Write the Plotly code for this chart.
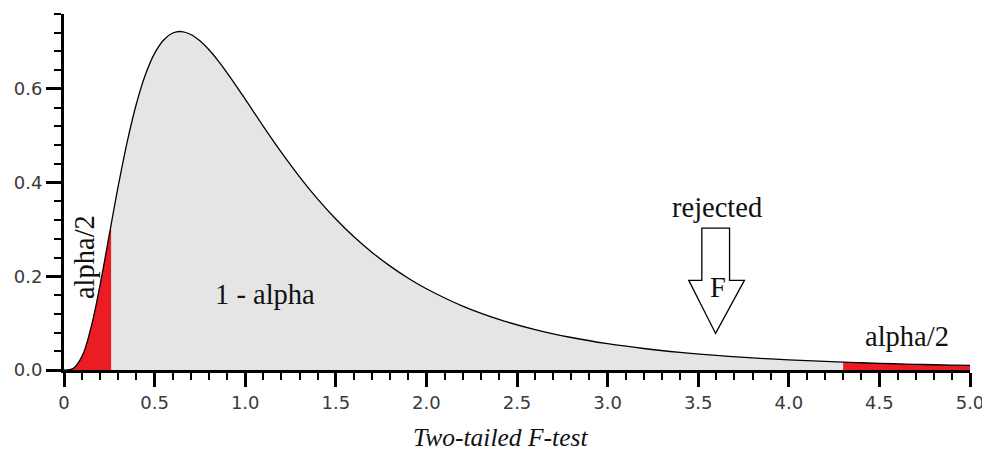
import numpy as np
import plotly.graph_objects as go

# F-distribution density
f_x = [0.0, 0.05, 0.10, 0.15, 0.20, 0.25, 0.26, 0.30, 0.35, 0.40, 0.45, 0.50, 0.55, 0.60,
       0.65, 0.70, 0.75, 0.80, 0.85, 0.90, 0.95, 1.0, 1.1, 1.2, 1.3, 1.4, 1.5, 1.6, 1.7,
       1.8, 1.9, 2.0, 2.2, 2.4, 2.6, 2.8, 3.0, 3.2, 3.4, 3.6, 3.8, 3.9, 4.0, 4.1, 4.2,
       4.3, 4.4, 4.5, 4.6, 4.7, 4.8, 4.9, 5.0]
f_density = [0.0, 0.0031, 0.0296, 0.0921, 0.1835, 0.2888, 0.3102, 0.3940, 0.4892, 0.5690,
             0.6313, 0.6759, 0.7046, 0.7194, 0.7225, 0.7163, 0.7027, 0.6836, 0.6605, 0.6345,
             0.6068, 0.5782, 0.5203, 0.4645, 0.4124, 0.3649, 0.3224, 0.2845, 0.2511, 0.2217,
             0.1960, 0.1735, 0.1365, 0.1081, 0.0863, 0.0694, 0.0562, 0.0459, 0.0377, 0.0312,
             0.0259, 0.0237, 0.0217, 0.0199, 0.0183, 0.0168, 0.0155, 0.0143, 0.0132, 0.0122,
             0.0112, 0.0104, 0.0097]

lower_crit = 0.26
upper_crit = 4.3

x_tickvals = [0, 0.5, 1.0, 1.5, 2.0, 2.5, 3.0, 3.5, 4.0, 4.5, 5.0]
x_ticktext = ["0", "0.5", "1.0", "1.5", "2.0", "2.5", "3.0", "3.5", "4.0", "4.5", "5.0"]
y_tickvals = [0, 0.2, 0.4, 0.6]
y_ticktext = ["0.0", "0.2", "0.4", "0.6"]

x = np.array(f_x)
y = np.array(f_density)

RED = "#ec1c24"
GRAY = "#e5e5e5"

fig = go.Figure()
mid = x >= lower_crit
fig.add_trace(go.Scatter(x=x[mid], y=y[mid], mode="lines", line=dict(width=0, shape="spline"),
                         fill="tozeroy", fillcolor=GRAY, hoverinfo="skip"))
left = x <= lower_crit
fig.add_trace(go.Scatter(x=x[left], y=y[left], mode="lines", line=dict(width=0, shape="spline"),
                         fill="tozeroy", fillcolor=RED, hoverinfo="skip"))
right = x >= upper_crit
fig.add_trace(go.Scatter(x=x[right], y=y[right], mode="lines", line=dict(width=0, shape="spline"),
                         fill="tozeroy", fillcolor=RED, hoverinfo="skip"))
fig.add_trace(go.Scatter(x=x, y=y, mode="lines", line=dict(color="black", width=1.3, shape="spline")))

# block arrow
fig.add_shape(type="path",
              path="M 3.52 0.3027 L 3.673 0.3027 L 3.673 0.1914 L 3.755 0.1914 L 3.596 0.0781 "
                   "L 3.448 0.1914 L 3.52 0.1914 Z",
              xref="x", yref="y", line=dict(color="black", width=1.3), fillcolor="rgba(0,0,0,0)")

serif = dict(family="Liberation Serif", size=28.5, color="#111111")
fig.add_annotation(x=1.107, y=0.1615, text="1 - alpha", showarrow=False, font=serif,
                   xanchor="center", yanchor="middle")
fig.add_annotation(x=0.11, y=0.241, text="alpha/2", showarrow=False, font=serif, textangle=-90,
                   xanchor="center", yanchor="middle")
fig.add_annotation(x=4.65, y=0.0717, text="alpha/2", showarrow=False, font=serif,
                   xanchor="center", yanchor="middle")
fig.add_annotation(x=3.602, y=0.3476, text="rejected", showarrow=False, font=serif,
                   xanchor="center", yanchor="middle")
fig.add_annotation(x=3.61, y=0.1765, text="F", showarrow=False, font=serif,
                   xanchor="center", yanchor="middle")
fig.add_annotation(x=0.482, y=-0.19, xref="paper", yref="paper", text="<i>Two-tailed F-test</i>",
                   showarrow=False, font=dict(family="Liberation Serif", size=25.5, color="#111111"),
                   xanchor="center", yanchor="middle", borderpad=0)

tickfont = dict(family="DejaVu Sans", size=18, color="#3a3a3a")
fig.update_xaxes(range=[0, 5], showline=True, linecolor="black", linewidth=3,
                 ticks="outside", ticklen=14, tickwidth=3, tickcolor="black",
                 tickmode="array", tickvals=x_tickvals, ticktext=x_ticktext, tickfont=tickfont,
                 minor=dict(tick0=0, dtick=0.1, ticks="outside", ticklen=7, tickwidth=1.5,
                            tickcolor="black"),
                 showgrid=False, zeroline=False)
fig.update_yaxes(range=[0, 0.76], showline=True, linecolor="black", linewidth=3,
                 ticks="outside", ticklen=15, tickwidth=3, tickcolor="black",
                 tickmode="array", tickvals=y_tickvals, ticktext=y_ticktext, tickfont=tickfont,
                 minor=dict(tick0=0, dtick=0.04, ticks="outside", ticklen=7, tickwidth=1.5,
                            tickcolor="black"),
                 showgrid=False, zeroline=False)

# page body has an 8px margin, so the figure is offset by 8px right and down
fig.update_layout(width=982, height=445, margin=dict(l=55, r=15, t=6, b=83),
                  plot_bgcolor="white", paper_bgcolor="white", showlegend=False)

fig.write_html("out.html")
